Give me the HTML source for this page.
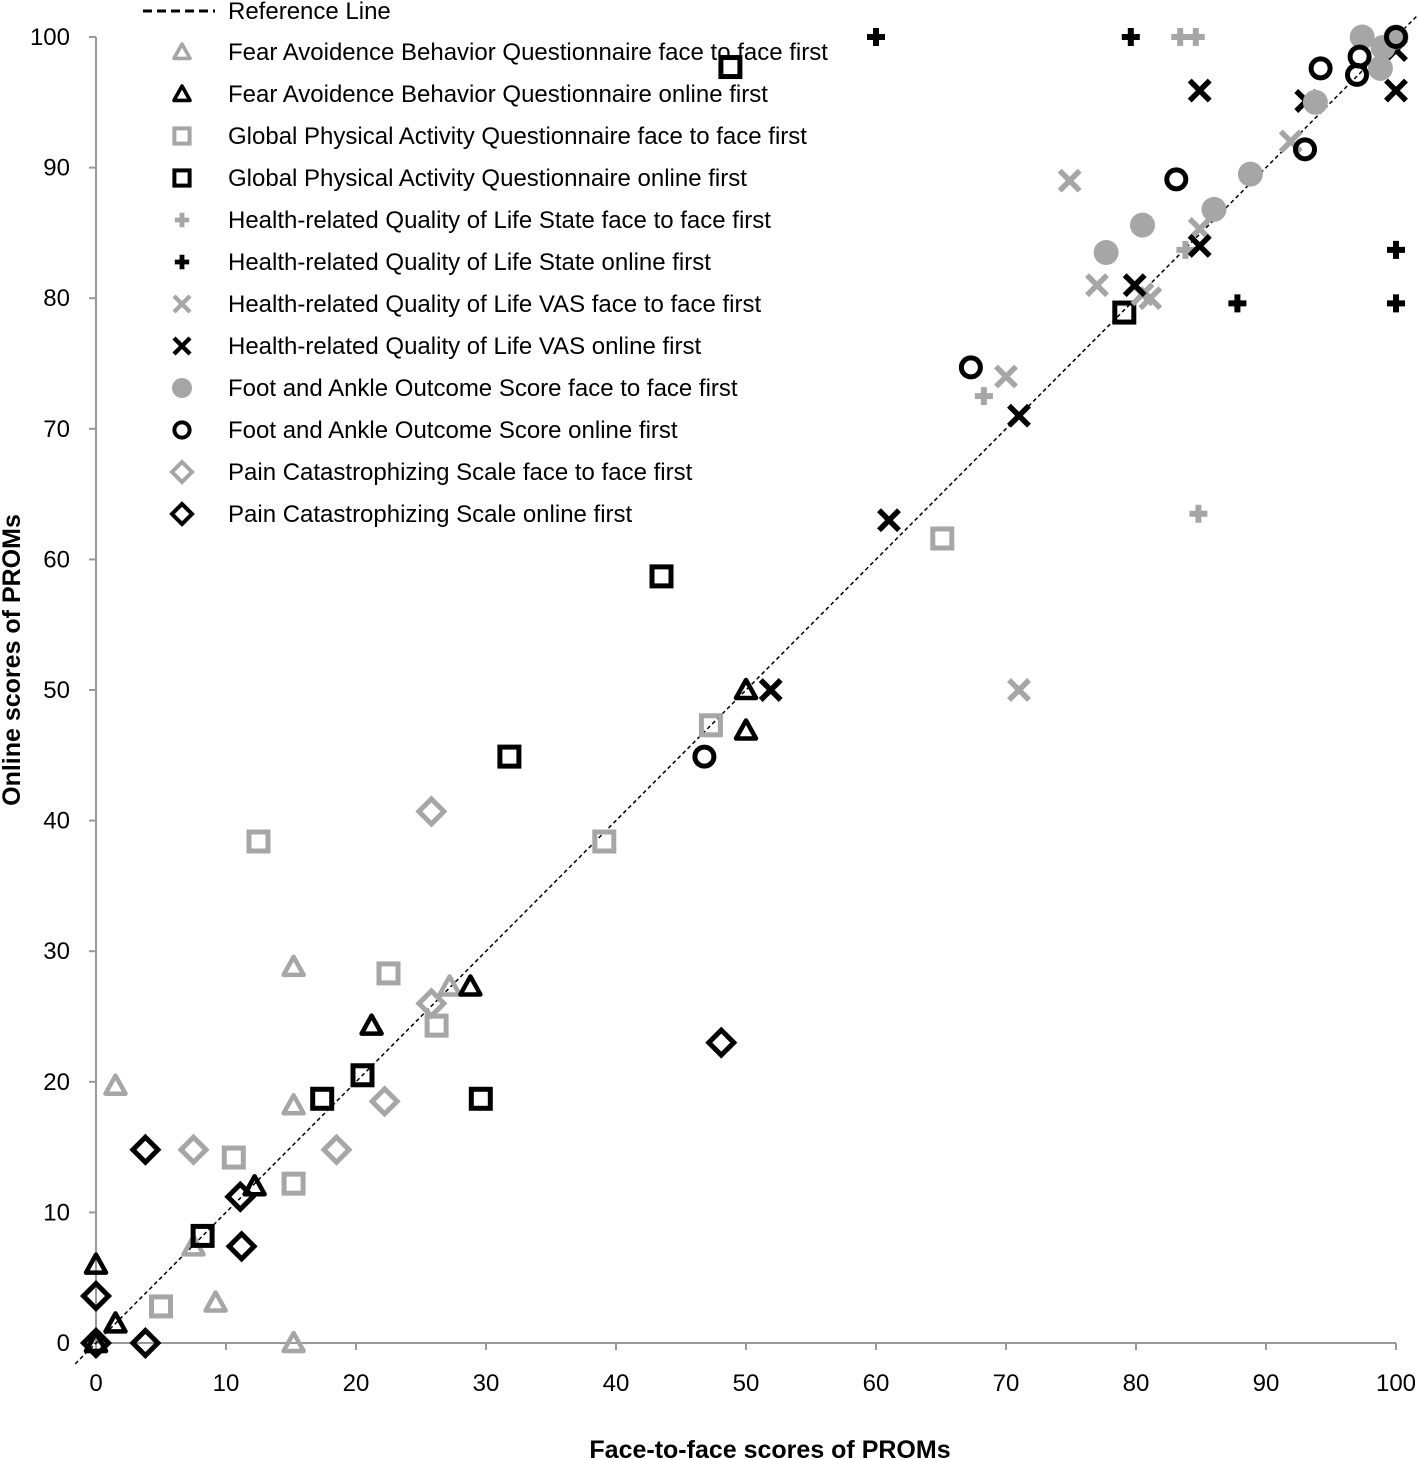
<!DOCTYPE html>
<html><head><meta charset="utf-8"><style>
html,body{margin:0;padding:0;background:#fff;}
svg{display:block;font-family:"Liberation Sans",sans-serif;}
</style></head><body>
<svg id="chart" width="1418" height="1459" viewBox="0 0 1418 1459" xmlns="http://www.w3.org/2000/svg">
<g id="axes"></g>
<g id="refline"></g>
<g id="marks"></g>
<g id="legend"></g>
<text x="770" y="1458" text-anchor="middle" font-size="25" font-weight="bold">Face-to-face scores of PROMs</text>
<text transform="translate(20,660) rotate(-90)" text-anchor="middle" font-size="25" font-weight="bold">Online scores of PROMs</text>
</svg>
<script>
const xTicks=[0,10,20,30,40,50,60,70,80,90,100];
const yTicks=[0,10,20,30,40,50,60,70,80,90,100];
const seriesNames=["Fear Avoidence Behavior Questionnaire face to face first","Fear Avoidence Behavior Questionnaire online first","Global Physical Activity Questionnaire  face to face first","Global Physical Activity Questionnaire online first","Health-related Quality of Life State face to face first","Health-related Quality of Life State online first","Health-related Quality of Life VAS face to face first","Health-related Quality of Life VAS online first","Foot and Ankle Outcome Score face to face first","Foot and Ankle Outcome Score online first","Pain Catastrophizing Scale face to face first","Pain Catastrophizing Scale online first"];
const seriesShapes=["tri","tri","sq","sq","plus","plus","x","x","dot","ring","dia","dia"];
const seriesGray=[true,false,true,false,true,false,true,false,true,false,true,false];
const fabF2F_x=[0,1.5,15.2,15.2,9.2,15.2,27.2,7.5];
const fabF2F_y=[0,19.7,28.8,18.2,3.1,0,27.3,7.4];
const fabOn_x=[0,1.5,12.2,21.2,28.8,50,50,0];
const fabOn_y=[6,1.5,12.0,24.3,27.3,50,46.9,0];
const gpaF2F_x=[5,10.6,15.2,12.5,22.5,26.2,39.1,47.3,65.1];
const gpaF2F_y=[2.8,14.2,12.2,38.4,28.3,24.3,38.4,47.3,61.6];
const gpaOn_x=[8.2,17.4,20.5,29.6,31.8,43.5,48.8,79.1];
const gpaOn_y=[8.2,18.7,20.5,18.7,44.9,58.7,97.7,78.9];
const hqsF2F_x=[83.4,84.6,68.3,84.8,83.8];
const hqsF2F_y=[100,100,72.5,63.5,83.7];
const hqsOn_x=[60,79.6,100,100,87.8];
const hqsOn_y=[100,100,83.7,79.6,79.6];
const vasF2F_x=[74.9,77,81.1,70,71,91.9,84.9,80.5];
const vasF2F_y=[89,81,80,74,50,92,85.3,80.3];
const vasOn_x=[84.9,84.9,79.9,71,61,51.9,100,93.1,100];
const vasOn_y=[95.9,84,81,71,63,50,95.9,95.1,99];
const faosF2F_x=[77.7,80.5,86,88.8,93.8,97.4,98.8,99,100];
const faosF2F_y=[83.5,85.6,86.8,89.5,95,100,97.6,99.2,100];
const faosOn_x=[83.1,67.3,46.8,93,94.2,97,97.2,100];
const faosOn_y=[89.1,74.7,44.9,91.4,97.6,97.1,98.5,100];
const pcsF2F_x=[25.8,25.8,22.2,18.5,7.5];
const pcsF2F_y=[40.7,26,18.5,14.8,14.8];
const pcsOn_x=[3.8,3.8,0,0,11.1,11.2,48.1];
const pcsOn_y=[14.8,0,3.6,0,11.2,7.4,23];
const seriesX=[fabF2F_x,fabOn_x,gpaF2F_x,gpaOn_x,hqsF2F_x,hqsOn_x,vasF2F_x,vasOn_x,faosF2F_x,faosOn_x,pcsF2F_x,pcsOn_x];
const seriesY=[fabF2F_y,fabOn_y,gpaF2F_y,gpaOn_y,hqsF2F_y,hqsOn_y,vasF2F_y,vasOn_y,faosF2F_y,faosOn_y,pcsF2F_y,pcsOn_y];

const NS="http://www.w3.org/2000/svg";
const X0=96,X1=1396,Y0=1343,Y1=37;
const sx=v=>X0+(X1-X0)*v/100;
const sy=v=>Y0-(Y0-Y1)*v/100;
function mk(tag,attrs,parent){const e=document.createElementNS(NS,tag);for(const k in attrs)e.setAttribute(k,attrs[k]);parent.appendChild(e);return e;}

const axes=document.getElementById('axes');
let a=mk('line',{x1:X0,y1:Y1,x2:X0,y2:Y0,stroke:'#999','stroke-width':2},axes);


a=mk('line',{x1:X0,y1:Y0,x2:X1,y2:Y0,stroke:'#999','stroke-width':2},axes);


xTicks.forEach(t=>{
  const l=mk('line',{x1:sx(t),y1:Y0,x2:sx(t),y2:Y0+7,stroke:'#999','stroke-width':2},axes);
  
  
  const tx=mk('text',{x:sx(t),y:1391,'text-anchor':'middle','font-size':24},axes);
  tx.textContent=t;
  
  
});
yTicks.forEach(t=>{
  const l=mk('line',{x1:X0-7,y1:sy(t),x2:X0,y2:sy(t),stroke:'#999','stroke-width':2},axes);
  
  
  const tx=mk('text',{x:70,y:sy(t)+8,'text-anchor':'end','font-size':24},axes);
  tx.textContent=t;
  
  
});
const rl=mk('line',{x1:sx(-1.6),y1:sy(-1.6),x2:sx(101.7),y2:sy(101.7),stroke:'#000','stroke-width':1.5,'stroke-dasharray':'4,3'},document.getElementById('refline'));



function drawMarker(shape,gray,cx,cy,parent,scale){
  const c=gray?'#a6a6a6':'#000';const s=scale||1;let e;
  const g=mk('g',{},parent);
  if(shape==='tri'){const r=10*s;e=mk('polygon',{points:`${cx},${cy-r} ${cx+r},${cy+r*0.8} ${cx-r},${cy+r*0.8}`,fill:'none',stroke:c,'stroke-width':4.5*s,'stroke-linejoin':'round'},g);}
  else if(shape==='sq'){const r=9.5*s;e=mk('rect',{x:cx-r,y:cy-r,width:2*r,height:2*r,fill:'none',stroke:c,'stroke-width':5*s},g);}
  else if(shape==='dia'){const r=12.5*s;e=mk('polygon',{points:`${cx},${cy-r} ${cx+r},${cy} ${cx},${cy+r} ${cx-r},${cy}`,fill:'none',stroke:c,'stroke-width':5*s},g);}
  else if(shape==='dot'){e=mk('circle',{cx:cx,cy:cy,r:12.5*s,fill:c},g);}
  else if(shape==='ring'){e=mk('circle',{cx:cx,cy:cy,r:9.5*s,fill:'none',stroke:c,'stroke-width':5*s},g);}
  else if(shape==='x'){const r=10*s;mk('path',{d:`M${cx-r},${cy-r}L${cx+r},${cy+r}M${cx+r},${cy-r}L${cx-r},${cy+r}`,stroke:c,'stroke-width':5.5*s},g);}
  else if(shape==='plus'){const r=9*s;mk('path',{d:`M${cx-r},${cy}L${cx+r},${cy}M${cx},${cy-r}L${cx},${cy+r}`,stroke:c,'stroke-width':6*s},g);}
  return g;
}
const marks=document.getElementById('marks');
seriesX.forEach((xs,i)=>{
  const sg=mk('g',{},marks);
  
  
  xs.forEach((xv,j)=>{
    const m=drawMarker(seriesShapes[i],seriesGray[i],sx(xv),sy(seriesY[i][j]),sg);
    
    
  });
});
const leg=document.getElementById('legend');
let ll=mk('line',{x1:143,y1:11,x2:215,y2:11,stroke:'#000','stroke-width':3,'stroke-dasharray':'9,5'},leg);


let lt=mk('text',{x:228,y:19,'font-size':24},leg);
lt.textContent='Reference Line';


seriesNames.forEach((n,i)=>{
  const y=52+42*i;
  const m=drawMarker(seriesShapes[i],seriesGray[i],182,y,leg,0.8);
  
  
  const t=mk('text',{x:228,y:y+8,'font-size':24},leg);
  t.textContent=n;
  
  
});
</script>
</body></html>
